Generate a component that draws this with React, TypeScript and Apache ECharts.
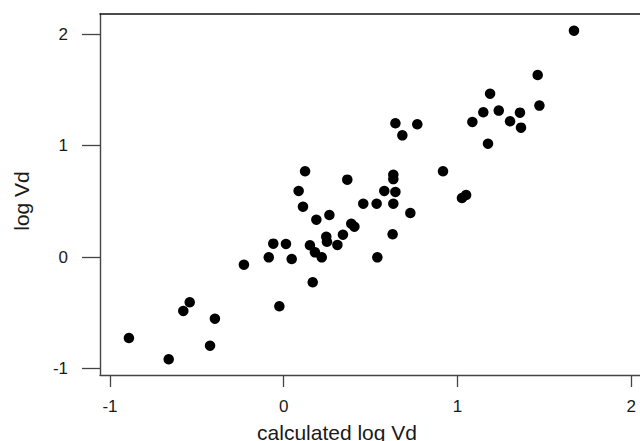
import React, { useEffect, useRef } from "react";
import * as echarts from "echarts";

const calcLogVd: number[] = [
  -0.891, -0.662, -0.578, -0.541, -0.396, -0.424, -0.229, -0.086, -0.06, 0.013,
  0.046, -0.025, 0.151, 0.18, 0.167, 0.123, 0.366, 0.086, 0.111, 0.188,
  0.263, 0.219, 0.245, 0.249, 0.309, 0.341, 0.389, 0.407, 0.458, 0.535,
  0.631, 0.631, 0.579, 0.643, 0.631, 0.729, 0.627, 0.539, 1.671, 1.462,
  1.472, 1.188, 1.149, 1.238, 1.086, 1.303, 1.36, 1.366, 1.176, 0.643,
  0.769, 0.683, 0.917, 1.026, 1.05,
];
const logVd: number[] = [
  -0.728, -0.919, -0.485, -0.407, -0.554, -0.797, -0.069, -0.003, 0.12, 0.117,
  -0.018, -0.443, 0.105, 0.042, -0.227, 0.77, 0.695, 0.593, 0.452, 0.335,
  0.377, -0.003, 0.182, 0.137, 0.108, 0.2, 0.299, 0.272, 0.479, 0.479,
  0.739, 0.7, 0.593, 0.584, 0.479, 0.395, 0.204, -0.003, 2.033, 1.635,
  1.36, 1.467, 1.3, 1.315, 1.213, 1.219, 1.297, 1.162, 1.018, 1.201,
  1.192, 1.093, 0.77, 0.53, 0.557,
];
const xTicks: number[] = [-1, 0, 1, 2];
const yTicks: number[] = [-1, 0, 1, 2];
const xTitle = "calculated log Vd";
const yTitle = "log Vd";

const FONT = "'Liberation Sans', Arial, Helvetica, sans-serif";

export default function App() {
  const ref = useRef<HTMLDivElement>(null);
  useEffect(() => {
    if (!ref.current) return;
    const chart = echarts.init(ref.current, null, { renderer: "svg" });
    const points = calcLogVd.map((x, i) => [x, logVd[i]]);
    chart.setOption({
      animation: false,
      backgroundColor: "#ffffff",
      grid: { left: 100, right: 0, top: 14, bottom: 66, containLabel: false },
      xAxis: [
        {
          type: "value",
          min: -1.0575,
          max: 2.051,
          position: "bottom",
          axisLine: { show: true, onZero: false, lineStyle: { color: "#444", width: 1.4 } },
          axisTick: {
            show: true,
            length: 12,
            customValues: xTicks,
            lineStyle: { color: "#444", width: 1.3 },
          },
          axisLabel: {
            show: true,
            customValues: xTicks,
            margin: 23,
            fontSize: 17,
            fontFamily: FONT,
            color: "#1a1a1a",
          },
          splitLine: { show: false },
        },
        {
          type: "value",
          min: -1.0575,
          max: 2.051,
          position: "top",
          axisLine: { show: true, onZero: false, lineStyle: { color: "#111", width: 1.5 } },
          axisTick: { show: false },
          axisLabel: { show: false },
          splitLine: { show: false },
        },
      ],
      yAxis: {
        type: "value",
        min: -1.06,
        max: 2.183,
        axisLine: { show: true, onZero: false, lineStyle: { color: "#444", width: 1.4 } },
        axisTick: {
          show: true,
          length: 18,
          customValues: yTicks,
          lineStyle: { color: "#444", width: 1.3 },
        },
        axisLabel: {
          show: true,
          customValues: yTicks,
          margin: 32,
          fontSize: 17,
          fontFamily: FONT,
          color: "#1a1a1a",
        },
        splitLine: { show: false },
      },
      graphic: [
        {
          type: "text",
          x: 337,
          y: 432,
          style: {
            text: xTitle,
            fontSize: 21,
            fontFamily: FONT,
            fill: "#1a1a1a",
            textAlign: "center",
            textVerticalAlign: "middle",
          },
        },
        {
          type: "text",
          x: 21,
          y: 201,
          rotation: Math.PI / 2,
          style: {
            text: yTitle,
            fontSize: 21,
            fontFamily: FONT,
            fill: "#1a1a1a",
            textAlign: "center",
            textVerticalAlign: "middle",
          },
        },
      ],
      series: [
        {
          type: "scatter",
          xAxisIndex: 0,
          data: points,
          symbol: "circle",
          symbolSize: 10.5,
          itemStyle: { color: "#000", opacity: 1 },
        },
      ],
    });
    return () => chart.dispose();
  }, []);
  return (
    <div
      ref={ref}
      style={{ position: "absolute", left: 0, top: 0, width: 640, height: 441 }}
    />
  );
}
